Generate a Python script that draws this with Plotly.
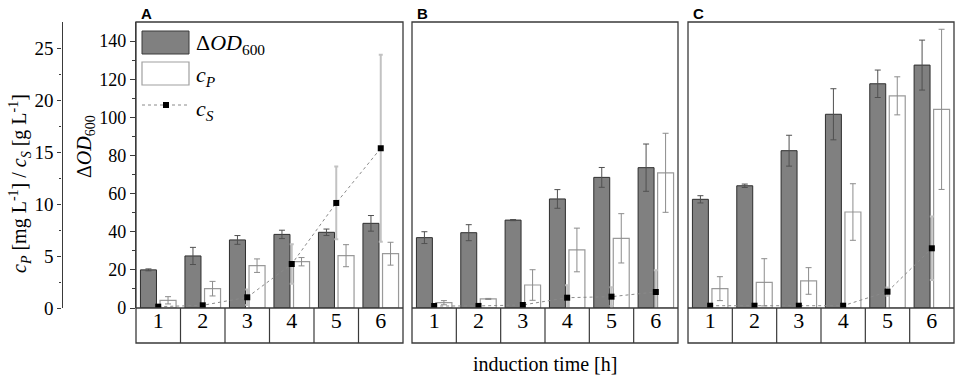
import plotly.graph_objects as go

# ---------------- data ----------------
times = [1, 2, 3, 4, 5, 6]
time_labels = ["1", "2", "3", "4", "5", "6"]

od_A = [20.0, 27.3, 35.7, 38.6, 39.7, 44.4]
od_A_err = [0.5, 4.5, 2.3, 2.2, 1.7, 4.1]
cp_A = [0.74, 1.86, 4.07, 4.45, 5.03, 5.22]
cp_A_err = [0.35, 0.7, 0.65, 0.4, 1.06, 1.1]
cs_A = [0.13, 0.26, 1.03, 4.23, 10.1, 15.36]
cs_A_err = [0.0, 0.0, 0.75, 1.9, 3.5, 9.0]

od_B = [36.9, 39.5, 46.1, 57.2, 68.5, 73.6]
od_B_err = [3.1, 4.2, 0.3, 4.9, 5.2, 12.4]
cp_B = [0.51, 0.87, 2.21, 5.58, 6.7, 13.0]
cp_B_err = [0.2, 0.05, 1.47, 2.1, 2.37, 3.8]
cs_B = [0.19, 0.2, 0.29, 0.99, 1.09, 1.54]
cs_B_err = [0.0, 0.0, 0.0, 1.2, 0.9, 2.1]

od_C = [57.0, 64.1, 82.5, 101.6, 117.6, 127.4]
od_C_err = [1.9, 0.9, 8.1, 13.4, 7.2, 13.1]
cp_C = [1.86, 2.47, 2.6, 9.23, 20.4, 19.1]
cp_C_err = [1.15, 2.27, 1.28, 2.72, 1.83, 7.7]
cs_C = [0.22, 0.22, 0.22, 0.22, 1.57, 5.74]
cs_C_err = [0.0, 0.0, 0.0, 0.0, 0.4, 3.05]

panels = [
    ("A", "x", od_A, od_A_err, cp_A, cp_A_err, cs_A, cs_A_err),
    ("B", "x2", od_B, od_B_err, cp_B, cp_B_err, cs_B, cs_B_err),
    ("C", "x3", od_C, od_C_err, cp_C, cp_C_err, cs_C, cs_C_err),
]

# ---------------- layout geometry (pixels) ----------------
W, H = 957, 376
L, R, T, B = 50, 3, 22, 68
PW = W - L - R
PH = H - T - B


def px(x):
    return (x - L) / PW


def py(y):
    return (H - B - y) / PH


FONT = "Liberation Serif"
FRAME = "#3a3a3a"
domains = [(px(136), px(403)), (px(412), px(678)), (px(688), px(954))]
bottom_box = py(343)

fig = go.Figure()

for name, xa, od, od_err, cp, cp_err, cs, cs_err in panels:
    fig.add_trace(go.Bar(
        x=times, y=od, xaxis=xa, yaxis="y", width=0.36, offset=-0.40,
        marker=dict(color="#808080", line=dict(color="#2e2e2e", width=1)),
        error_y=dict(type="data", array=od_err, color="#505050", thickness=1, width=3),
        showlegend=False,
    ))
for name, xa, od, od_err, cp, cp_err, cs, cs_err in panels:
    fig.add_trace(go.Bar(
        x=times, y=cp, xaxis=xa, yaxis="y2", width=0.36, offset=0.04,
        marker=dict(color="white", line=dict(color="#9a9a9a", width=1.2)),
        error_y=dict(type="data", array=cp_err, color="#8c8c8c", thickness=1, width=3),
        showlegend=False,
    ))
for name, xa, od, od_err, cp, cp_err, cs, cs_err in panels:
    fig.add_trace(go.Scatter(
        x=times, y=cs, xaxis=xa, yaxis="y2", mode="lines+markers",
        line=dict(color="#8a8a8a", width=1, dash="dot"),
        marker=dict(symbol="square", size=6, color="black"),
        error_y=dict(type="data", array=cs_err, color="#c2c2c2", thickness=2, width=2),
        showlegend=False,
    ))

xcommon = dict(range=[0.5, 6.5], tickvals=times, ticktext=time_labels,
               showgrid=False, zeroline=False, showline=False, ticks="",
               tickfont=dict(family=FONT, size=22, color="black"),
               fixedrange=True)

layout = dict(
    width=W, height=H,
    margin=dict(l=L, r=R, t=T, b=B),
    paper_bgcolor="white", plot_bgcolor="white",
    showlegend=False,
    font=dict(family=FONT, color="black"),
    yaxis=dict(range=[0, 150], anchor="x", tickvals=[0, 20, 40, 60, 80, 100, 120, 140],
               showgrid=False, zeroline=False, showline=True, linecolor=FRAME, linewidth=1.3,
               ticks="outside", ticklen=5, tickcolor=FRAME, tickwidth=1,
               minor=dict(tickvals=[10, 30, 50, 70, 90, 110, 130], ticks="outside", ticklen=3,
                          tickcolor=FRAME),
               tickfont=dict(family=FONT, size=18, color="black")),
    yaxis2=dict(range=[0, 27.5], anchor="free", overlaying="y", side="left", position=px(61.5),
                tickvals=[0, 5, 10, 15, 20, 25],
                showgrid=False, zeroline=False, showline=True, linecolor=FRAME, linewidth=1.2,
                ticks="outside", ticklen=4, tickcolor=FRAME, tickwidth=1,
                minor=dict(tickvals=[2.5, 7.5, 12.5, 17.5, 22.5], ticks="outside", ticklen=2,
                           tickcolor=FRAME),
                tickfont=dict(family=FONT, size=19, color="black")),
)
for i, (d0, d1) in enumerate(domains):
    key = "xaxis" if i == 0 else f"xaxis{i+1}"
    layout[key] = dict(domain=[d0, d1], anchor="y", ticklabelstandoff=-3, **xcommon)
fig.update_layout(**layout)

shapes = []
annotations = []
for i, (name, xa, *_rest) in enumerate(panels):
    dref = f"{xa} domain"
    shapes.append(dict(type="rect", xref=dref, yref="paper", x0=0, x1=1, y0=bottom_box, y1=1,
                       line=dict(color=FRAME, width=1.3), layer="above"))
    shapes.append(dict(type="line", xref=dref, yref="paper", x0=0, x1=1, y0=0, y1=0,
                       line=dict(color=FRAME, width=1.3), layer="above"))
    for b in [1.5, 2.5, 3.5, 4.5, 5.5]:
        shapes.append(dict(type="line", xref=xa, yref="paper", x0=b, x1=b, y0=bottom_box, y1=0,
                           line=dict(color=FRAME, width=1.2), layer="above"))
    annotations.append(dict(text=f"<b>{name}</b>", xref=dref, yref="paper", x=0, y=py(13),
                            xanchor="left", yanchor="middle", xshift=3, showarrow=False,
                            font=dict(family="Liberation Sans", size=15, color="black")))

# custom legend (panel A)
shapes.append(dict(type="rect", xref="paper", yref="paper", x0=px(142), x1=px(189), y0=py(54), y1=py(31),
                   fillcolor="#808080", line=dict(color="#3a3a3a", width=1)))
shapes.append(dict(type="rect", xref="paper", yref="paper", x0=px(142), x1=px(189), y0=py(85), y1=py(62),
                   fillcolor="white", line=dict(color="#a0a0a0", width=1.2)))
shapes.append(dict(type="line", xref="paper", yref="paper", x0=px(142), x1=px(189), y0=py(105), y1=py(105),
                   line=dict(color="#8a8a8a", width=1, dash="dot")))
shapes.append(dict(type="rect", xref="paper", yref="paper", x0=px(163), x1=px(169), y0=py(108), y1=py(102),
                   fillcolor="black", line=dict(color="black", width=0)))
leg_font = dict(family=FONT, size=22, color="black")
annotations += [
    dict(text="Δ<i>OD</i><sub>600</sub>", xref="paper", yref="paper", x=px(194), y=py(44),
         xanchor="left", yanchor="middle", showarrow=False, font=leg_font),
    dict(text="<i>c</i><sub><i>P</i></sub>", xref="paper", yref="paper", x=px(194), y=py(76),
         xanchor="left", yanchor="middle", showarrow=False, font=leg_font),
    dict(text="<i>c</i><sub><i>S</i></sub>", xref="paper", yref="paper", x=px(194), y=py(110),
         xanchor="left", yanchor="middle", showarrow=False, font=leg_font),
]

# axis titles
annotations += [
    dict(text="Δ<i>OD</i><sub>600</sub>", xref="paper", yref="paper", x=px(85), y=py(147),
         xanchor="center", yanchor="middle",
         textangle=-90, showarrow=False, font=dict(family=FONT, size=20, color="black")),
    dict(text="<i>c</i><sub><i>P</i></sub> [mg L<sup>-1</sup>] / <i>c</i><sub><i>S</i></sub> [g L<sup>-1</sup>]",
         xref="paper", yref="paper", x=px(20), y=py(184),
         xanchor="center", yanchor="middle",
         textangle=-90, showarrow=False, font=dict(family=FONT, size=20, color="black")),
    dict(text="induction time [h]", xref="paper", yref="paper", x=px(545), y=py(364),
         xanchor="center", yanchor="middle",
         showarrow=False, font=dict(family=FONT, size=20, color="black")),
]

fig.update_layout(shapes=shapes, annotations=annotations)
fig.write_html("out.html", config={"displayModeBar": False},
               post_script="document.body.style.margin='0';")
